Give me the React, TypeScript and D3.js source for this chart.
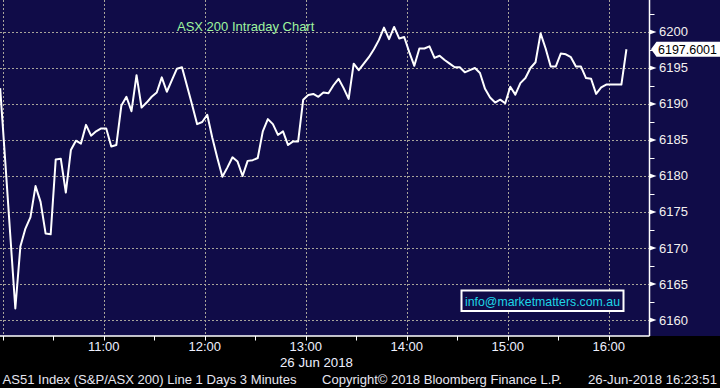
import React from "react";
import * as d3 from "d3";

// ---- data ----
const sessionStart = "10:00"; // first 3-minute bar
const barMinutes = 3;
const values: number[] = [
  6192.2, 6182.1, 6171.8, 6161.6, 6170.2, 6172.7, 6174.3, 6178.6, 6176.4, 6172.0,
  6171.9, 6182.3, 6182.4, 6177.7, 6183.6, 6184.9, 6184.5, 6187.1, 6185.6, 6186.2,
  6186.6, 6186.6, 6184.1, 6184.3, 6189.8, 6191.0, 6189.0, 6194.0, 6189.5, 6190.2,
  6191.0, 6191.6, 6193.7, 6191.7, 6193.3, 6194.9, 6195.1, 6192.5, 6189.9, 6187.2,
  6187.5, 6188.5, 6185.3, 6182.5, 6179.9, 6181.2, 6182.6, 6182.0, 6180.0, 6182.1,
  6182.2, 6182.5, 6186.2, 6187.9, 6187.2, 6185.7, 6186.2, 6184.3, 6184.8, 6184.8,
  6190.6, 6191.25, 6191.4, 6191.0, 6191.6, 6191.5, 6192.6, 6193.5, 6192.2, 6190.7,
  6195.6, 6194.7, 6195.6, 6196.5, 6197.6, 6198.9, 6200.6, 6199.0, 6200.7, 6199.1,
  6199.3, 6197.2, 6195.3, 6197.7, 6197.7, 6198.0, 6196.4, 6196.7, 6196.1, 6195.6,
  6195.1, 6195.1, 6194.4, 6194.7, 6195.0, 6194.3, 6192.1, 6190.9, 6190.2, 6190.6,
  6190.1, 6192.4, 6191.3, 6192.9, 6193.6, 6195.0, 6195.8, 6199.8, 6197.7, 6195.2,
  6195.2, 6197.0, 6196.9, 6196.5, 6195.2, 6195.2, 6193.6, 6193.5, 6191.4, 6192.3,
  6192.7, 6192.7, 6192.7, 6192.7, 6197.6001,
];
const lastLabel = "6197.6001";
const yTicks = [6160, 6165, 6170, 6175, 6180, 6185, 6190, 6195, 6200];
const yMinorTicks = [6162.5, 6167.5, 6172.5, 6177.5, 6182.5, 6187.5, 6192.5, 6197.5, 6202.5];
const xHourTicks = ["10:00", "11:00", "12:00", "13:00", "14:00", "15:00", "16:00"];
const xLabelTicks = ["11:00", "12:00", "13:00", "14:00", "15:00", "16:00"];
const xHalfTicks = ["10:00", "10:30", "11:00", "11:30", "12:00", "12:30", "13:00", "13:30", "14:00", "14:30", "15:00", "15:30", "16:00"];
const title = "ASX 200 Intraday Chart";
const dateLabel = "26 Jun 2018";
const footerLeft = "AS51 Index (S&P/ASX 200) Line 1 Days 3 Minutes";
const footerMid = "Copyright\u00A9 2018 Bloomberg Finance L.P.";
const footerRight = "26-Jun-2018 16:23:51";
const email = "info@marketmatters.com.au";

const toMin = (s: string) => {
  const [h, m] = s.split(":").map(Number);
  return h * 60 + m;
};

const W = 720;
const H = 388;
const plotR = 649.5;
const plotB = 336;
const BG = "#100c48";
const GRID = "#a8a49a";
const FONT = "'Liberation Sans', Arial, sans-serif";

export default function App() {
  const x = d3.scaleLinear().domain([598.4, 984.2]).range([0, plotR]);
  const y = d3.scaleLinear().domain([6157.78, 6204.44]).range([plotB, 0]);
  const start = toMin(sessionStart);
  // each bar plotted at its centre relative to the bar grid
  const pts: [number, number][] = values.map((v, i) => [start + barMinutes * i - barMinutes / 2, v]);
  const line = d3
    .line<[number, number]>()
    .x((d) => x(d[0]))
    .y((d) => y(d[1]));
  const lastV = values[values.length - 1];
  const ly = y(lastV);

  return (
    <svg
      width={W}
      height={H}
      style={{ position: "fixed", left: 0, top: 0, display: "block" }}
      fontFamily={FONT}
    >
      <defs>
        <clipPath id="plotclip">
          <rect x={0} y={0} width={plotR} height={plotB} />
        </clipPath>
      </defs>
      <rect x={0} y={0} width={W} height={H} fill="#000" />
      <rect x={0} y={0} width={W} height={plotB} fill={BG} />

      {/* grid */}
      {yTicks.map((v) => (
        <line
          key={"gy" + v}
          x1={0}
          x2={plotR}
          y1={Math.round(y(v)) + 0.5}
          y2={Math.round(y(v)) + 0.5}
          stroke={GRID}
          strokeDasharray="2,2"
        />
      ))}
      {xHourTicks.map((t) => (
        <line
          key={"gx" + t}
          x1={Math.round(x(toMin(t))) + 0.5}
          x2={Math.round(x(toMin(t))) + 0.5}
          y1={0}
          y2={plotB}
          stroke={GRID}
          strokeDasharray="2,2"
        />
      ))}

      {/* title */}
      <text x={177} y={30.5} fontSize={13} fill="#9ff59f">
        {title}
      </text>

      {/* series */}
      <path
        d={line(pts) || ""}
        fill="none"
        stroke="#fff"
        strokeWidth={2}
        strokeLinejoin="round"
        clipPath="url(#plotclip)"
      />

      {/* email box */}
      <rect x={461.5} y={290.5} width={162} height={20.5} fill={BG} stroke="#fff" strokeWidth={2} />
      <text x={465} y={305.5} fontSize={13} fill="#1ed6e6" textLength={155} lengthAdjust="spacingAndGlyphs">
        {email}
      </text>

      {/* axes lines */}
      <line x1={plotR} x2={plotR} y1={0} y2={plotB} stroke="#fff" strokeWidth={1.5} />
      <line x1={0} x2={plotR} y1={plotB} y2={plotB} stroke="#fff" strokeWidth={1.5} />

      {/* right axis ticks */}
      {yTicks.map((v) => {
        const yy = y(v);
        return (
          <g key={"ty" + v}>
            <path d={`M${plotR},${yy - 2.5}L${plotR + 7},${yy}L${plotR},${yy + 2.5}Z`} fill="#fff" />
            <text x={659} y={yy + 4.5} fontSize={13} fill="#f4f0f0">
              {v}
            </text>
          </g>
        );
      })}
      {yMinorTicks.map((v) => (
        <line
          key={"my" + v}
          x1={plotR}
          x2={plotR + 5}
          y1={Math.round(y(v)) + 0.5}
          y2={Math.round(y(v)) + 0.5}
          stroke="#fff"
        />
      ))}

      {/* last value label */}
      <path
        d={`M${plotR + 1.5},${ly}L${plotR + 7},${ly - 7.5}L${W},${ly - 7.5}L${W},${ly + 7.5}L${plotR + 7},${ly + 7.5}Z`}
        fill="#fff"
      />
      <text x={658} y={ly + 4.5} fontSize={13} fill="#000" textLength={59} lengthAdjust="spacingAndGlyphs">
        {lastLabel}
      </text>

      {/* bottom axis ticks */}
      {xHalfTicks.map((t) => (
        <line
          key={"tx" + t}
          x1={Math.round(x(toMin(t))) + 0.5}
          x2={Math.round(x(toMin(t))) + 0.5}
          y1={plotB}
          y2={plotB + 4.5}
          stroke="#fff"
        />
      ))}
      {xLabelTicks.map((t) => (
        <text key={"lx" + t} x={x(toMin(t))} y={350.5} fontSize={13} fill="#eef0ff" textAnchor="middle">
          {t}
        </text>
      ))}
      <text x={280} y={366.5} fontSize={13} fill="#eef0ff" textLength={73} lengthAdjust="spacingAndGlyphs">
        {dateLabel}
      </text>

      {/* footer */}
      <text x={2.5} y={384} fontSize={13} fill="#e6e6f0" textLength={294} lengthAdjust="spacingAndGlyphs">
        {footerLeft}
      </text>
      <text x={322} y={384} fontSize={13} fill="#e6e6f0" textLength={240} lengthAdjust="spacingAndGlyphs">
        {footerMid}
      </text>
      <text x={588} y={384} fontSize={13} fill="#e6e6f0" textLength={129} lengthAdjust="spacingAndGlyphs">
        {footerRight}
      </text>
    </svg>
  );
}
